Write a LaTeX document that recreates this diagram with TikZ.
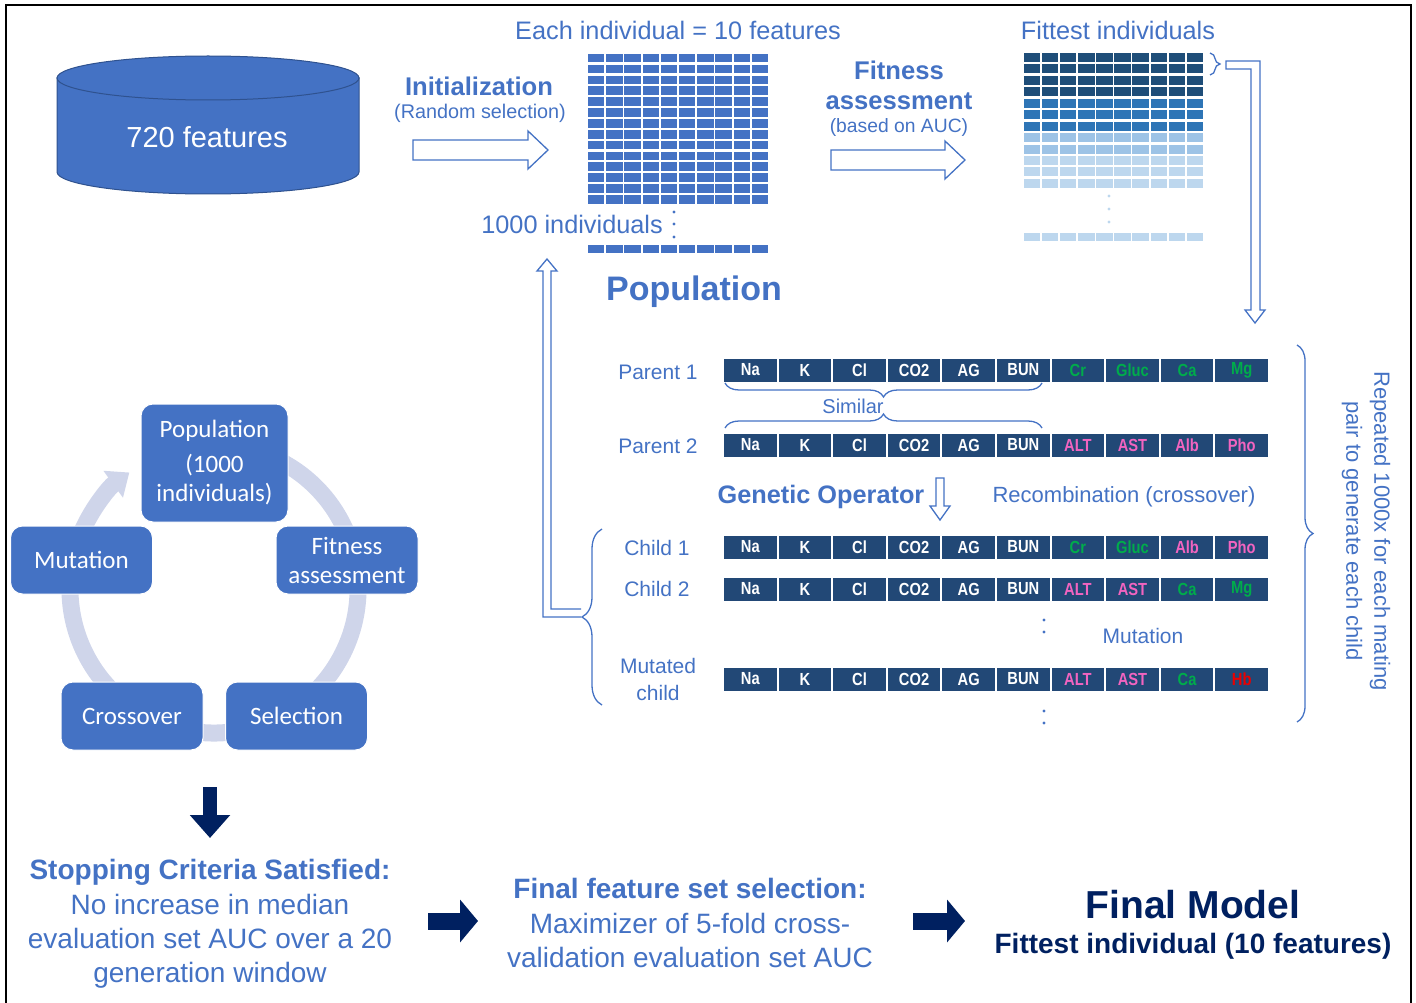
\documentclass[tikz,border=0pt]{standalone}
\usepackage{fontspec}
\setmainfont{Liberation Sans}
\newfontfamily\calibri{Carlito}
\newfontfamily\narrowfont[FakeStretch=0.84]{Liberation Sans}
\usepackage{tikz}
\usetikzlibrary{arrows.meta, decorations.pathreplacing, calc}
\definecolor{txtblue}{RGB}{68,114,196}
\definecolor{dbedge}{RGB}{47,82,143}
\definecolor{genebox}{RGB}{34,72,118}
\definecolor{genegreen}{RGB}{0,172,75}
\definecolor{genepink}{RGB}{242,100,192}
\definecolor{genered}{RGB}{235,0,0}
\definecolor{fitdark}{RGB}{31,78,121}
\definecolor{fitmid}{RGB}{46,117,182}
\definecolor{fitlight}{RGB}{157,195,230}
\definecolor{fitpale}{RGB}{189,215,238}
\definecolor{ringcol}{RGB}{207,213,234}
\definecolor{navy}{RGB}{0,32,96}

\begin{document}
\begin{tikzpicture}[
    x=1pt, y=-1pt,
    lbl/.style={text=txtblue, inner sep=0pt, font=\fontsize{21}{26}\selectfont},
    toplbl/.style={text=txtblue, inner sep=0pt, font=\fontsize{25.3}{30}\selectfont},
    boldlbl/.style={text=txtblue, inner sep=0pt, font=\bfseries\fontsize{25.6}{30}\selectfont},
    bottxt/.style={text=txtblue, align=center, inner sep=0pt, font=\fontsize{28}{34.3}\selectfont},
    gene/.style={
      rectangle, fill=genebox, draw=white, line width=2pt,
      minimum width=54.6pt, minimum height=25pt, inner sep=0pt,
      font=\narrowfont\bfseries\fontsize{17.5}{20}\selectfont
    },
    cyclebox/.style={
      rectangle, rounded corners=12pt,
      fill=txtblue, draw=white, line width=1pt,
      minimum width=142pt, minimum height=68pt,
      text=white, align=center, font=\calibri\fontsize{25}{29}\selectfont
    },
    hollowarr/.style={draw=txtblue, line width=1.3pt, fill=white},
    bracep/.style={draw=txtblue, line width=1.3pt, decorate, decoration={brace, amplitude=#1}},
    bracem/.style={draw=txtblue, line width=1.3pt, decorate, decoration={brace, mirror, amplitude=#1}},
    navyarr/.style={draw=navy, line width=#1}
  ]

  \useasboundingbox (0,0) rectangle (1416,1003);
  \draw[line width=2pt] (6,1003) -- (6,5) -- (1411,5) -- (1411,1003);

  % ---- Database ----
  \fill[txtblue, draw=dbedge, line width=1pt]
    (57,78) -- (57,172) arc[start angle=180, end angle=0, x radius=151, y radius=22] -- (359,78) -- cycle;
  \draw[fill=txtblue, draw=dbedge, line width=1pt] (208,78) ellipse[x radius=151, y radius=22];
  \node[text=white, font=\fontsize{29}{34}\selectfont] (feat) at (207,137) {720 features};

  % ---- Initialization ----
  \node[boldlbl] (init) at (479,86) {Initialization};
  \node[lbl, font=\fontsize{19.8}{24}\selectfont] (initsub) at (480,113) {(Random selection)};
  \coordinate (iniA) at (413,150);
  \coordinate (iniB) at (548,150);
  \draw[hollowarr] (iniA) ++(0,-10) -- ++(115,0) -- ++(0,-9) -- (iniB) -- ++(-20,19) -- ++(0,-9) -- ++(-115,0) -- cycle;

  % ---- Population grid ----
  \node[toplbl] (each) at (678,30) {Each individual = 10 features};
  \foreach \r in {0,...,13}{
    \foreach \c in {0,...,9}{
      \fill[txtblue] ({587.9+\c*18.2},{53.9+\r*10.86}) rectangle ++(16.4,8.6);
    }
  }
  \foreach \c in {0,...,9}{
    \fill[txtblue] ({587.9+\c*18.2},245) rectangle ++(16.4,8);
  }
  \foreach \y in {212,224,237}{
    \fill[txtblue] (674,\y) circle (1.7);
  }
  \node[toplbl, anchor=east] (thousand) at (663,224) {1000 individuals};
  \node[text=txtblue, inner sep=0pt, font=\bfseries\fontsize{34}{40}\selectfont] (poplbl) at (694,292) {Population};

  % ---- Fitness assessment ----
  \node[boldlbl] (fit1) at (899,70) {Fitness};
  \node[boldlbl] (fit2) at (899,101) {assessment};
  \node[lbl, font=\fontsize{19.3}{23}\selectfont] (fit3) at (899,128) {(based on AUC)};
  \coordinate (fitA) at (831,160);
  \coordinate (fitB) at (965,160);
  \draw[hollowarr] (fitA) ++(0,-10) -- ++(114,0) -- ++(0,-9) -- (fitB) -- ++(-20,19) -- ++(0,-9) -- ++(-114,0) -- cycle;

  % ---- Fittest grid ----
  \node[toplbl] (fittest) at (1118,30) {Fittest individuals};
  \foreach \r/\col in {0/fitdark,1/fitdark,2/fitdark,3/fitdark,4/fitmid,5/fitmid,6/fitmid,
                       7/fitlight,8/fitlight,9/fitpale,10/fitpale,11/fitpale}{
    \foreach \c in {0,...,9}{
      \fill[\col] ({1023.8+\c*18.1},{53+\r*11.45}) rectangle ++(16.4,9);
    }
  }
  \foreach \c in {0,...,9}{
    \fill[fitpale] ({1023.8+\c*18.1},233) rectangle ++(16.4,8);
  }
  \foreach \y in {196,209,222}{
    \fill[fitpale] (1109,\y) circle (1.7);
  }
  \draw[bracep=10] (1210,53) -- (1210,75);
  \draw[hollowarr, fill=none] (1226,61) -- (1260,61) -- (1260,310) -- (1265,310) -- (1255,323)
    -- (1245,310) -- (1251,310) -- (1251,69) -- (1226,69) -- cycle;

  % ---- Parents ----
  \node[lbl] (par1) at (658,372) {Parent 1};
  \foreach \g/\tc [count=\i] in {Na/white, K/white, Cl/white, CO2/white, AG/white, BUN/white,
                                 Cr/genegreen, Gluc/genegreen, Ca/genegreen, Mg/genegreen}
    \node[gene, text=\tc] (pa\i) at ({695.7+\i*54.6},370) {\g};

  \draw[bracem=14] (725,383) -- (1042,383);
  \node[lbl, font=\fontsize{20}{24}\selectfont] (similar) at (853,406) {Similar};
  \draw[bracep=14] (725,428) -- (1042,428);

  \node[lbl] (par2) at (658,446) {Parent 2};
  \foreach \g/\tc [count=\i] in {Na/white, K/white, Cl/white, CO2/white, AG/white, BUN/white,
                                 ALT/genepink, AST/genepink, Alb/genepink, Pho/genepink}
    \node[gene, text=\tc] (pb\i) at ({695.7+\i*54.6},445) {\g};

  % ---- Genetic operator ----
  \node[boldlbl, font=\bfseries\fontsize{25.3}{30}\selectfont] (genop) at (821,497) {Genetic Operator};
  \coordinate (opA) at (940,478);
  \coordinate (opB) at (940,520);
  \draw[hollowarr] (opA) ++(-4,0) -- ++(0,28) -- ++(-6,0) -- (opB) -- ++(10,-14) -- ++(-6,0) -- ++(0,-28) -- cycle;
  \node[lbl, font=\fontsize{22}{26}\selectfont] (recomb) at (1124,497) {Recombination (crossover)};

  % ---- Children ----
  \node[lbl] (ch1) at (657,548) {Child 1};
  \foreach \g/\tc [count=\i] in {Na/white, K/white, Cl/white, CO2/white, AG/white, BUN/white,
                                 Cr/genegreen, Gluc/genegreen, Alb/genepink, Pho/genepink}
    \node[gene, text=\tc] (ca\i) at ({695.7+\i*54.6},547) {\g};

  \node[lbl] (ch2) at (657,589) {Child 2};
  \foreach \g/\tc [count=\i] in {Na/white, K/white, Cl/white, CO2/white, AG/white, BUN/white,
                                 ALT/genepink, AST/genepink, Ca/genegreen, Mg/genegreen}
    \node[gene, text=\tc] (cb\i) at ({695.7+\i*54.6},589) {\g};

  \foreach \y in {620,632}{
    \fill[txtblue] (1044,\y) circle (1.7);
  }
  \node[lbl] (mutlbl) at (1143,636) {Mutation};

  \node[lbl, align=center, font=\fontsize{21}{27}\selectfont] (mchild) at (658,679) {Mutated\\child};
  \foreach \g/\tc [count=\i] in {Na/white, K/white, Cl/white, CO2/white, AG/white, BUN/white,
                                 ALT/genepink, AST/genepink, Ca/genegreen, Hb/genered}
    \node[gene, text=\tc] (mc\i) at ({695.7+\i*54.6},679) {\g};
  \foreach \y in {711,723}{
    \fill[txtblue] (1044,\y) circle (1.7);
  }

  % ---- Braces and loop back ----
  \draw[bracep=20] (602,705) -- (602,529);
  \draw[bracep=16] (1297,345) -- (1297,722);
  \node[lbl, rotate=-90, align=center, font=\fontsize{22}{28}\selectfont] (repeat) at (1366,531)
    {Repeated 1000x for each mating\\pair to generate each child};
  \draw[hollowarr, fill=none] (581,609) -- (551,609) -- (551,271) -- (557,271) -- (547,259)
    -- (537,271) -- (543,271) -- (543,617) -- (581,617);

  % ---- GA cycle ----
  \coordinate (cyc) at (214,589);
  \draw[ringcol, line width=17pt, -{Triangle[width=32pt,length=20pt]}]
    (cyc) ++(-65:144) arc[start angle=-65, end angle=234, radius=144];
  \node[cyclebox, minimum width=147pt, minimum height=118pt] (cpop) at (214.5,463)
    {Population\\[6pt](1000\\individuals)};
  \node[cyclebox] (cmut) at (81.5,560) {Mutation};
  \node[cyclebox] (cfit) at (347,560) {Fitness\\assessment};
  \node[cyclebox] (ccro) at (132,716) {Crossover};
  \node[cyclebox] (csel) at (296.5,716) {Selection};

  % ---- Bottom row ----
  \coordinate (dnA) at (210,787);
  \coordinate (dnB) at (210,838);
  \draw[navyarr=14pt, -{Triangle[width=39pt,length=23pt]}] (dnA) -- (dnB);

  \node[bottxt] (stop) at (210,924)
    {\textbf{Stopping Criteria Satisfied:}\\No increase in median\\evaluation set AUC over a 20\\generation window};

  \coordinate (rtA) at (428,921);
  \coordinate (rtB) at (478,921);
  \draw[navyarr=17pt, -{Triangle[width=42pt,length=18pt]}] (rtA) -- (rtB);

  \node[bottxt] (finsel) at (690,923)
    {\textbf{Final feature set selection:}\\Maximizer of 5-fold cross-\\validation evaluation set AUC};

  \coordinate (rtC) at (913,921);
  \coordinate (rtD) at (965,921);
  \draw[navyarr=17pt, -{Triangle[width=42pt,length=18pt]}] (rtC) -- (rtD);

  \node[text=navy, inner sep=0pt, font=\bfseries\fontsize{39}{46}\selectfont] (fmodel) at (1193,905) {Final Model};
  \node[text=navy, inner sep=0pt, font=\bfseries\fontsize{28}{33}\selectfont] (fmsub) at (1193,946) {Fittest individual (10 features)};

\end{tikzpicture}
\end{document}
